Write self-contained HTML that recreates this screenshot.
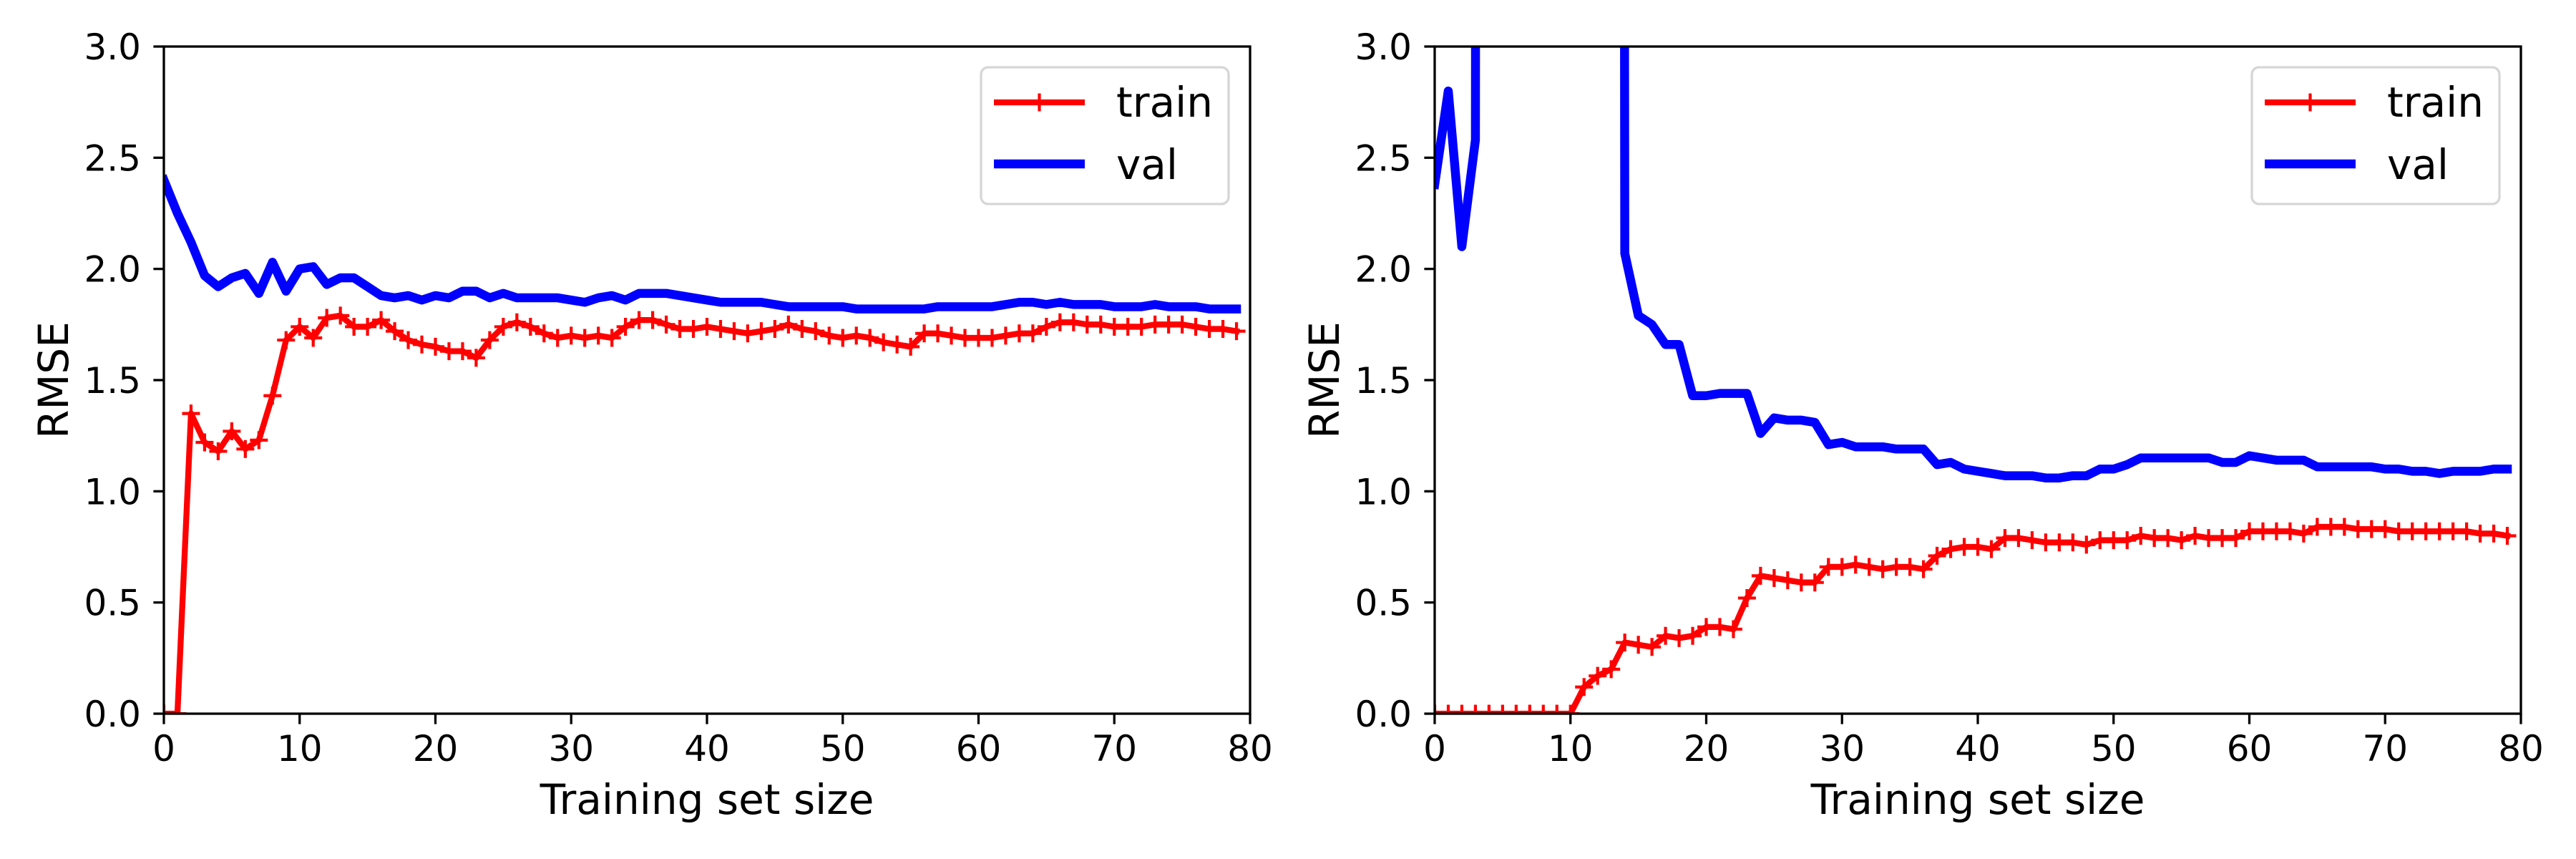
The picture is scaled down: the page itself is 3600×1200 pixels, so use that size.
<!DOCTYPE html>
<html><head><meta charset="utf-8"><style>
html,body{margin:0;padding:0;background:#fff;}
svg{display:block;}
text{font-family:"DejaVu Sans","Liberation Sans",sans-serif;fill:#000;}
</style></head><body>
<svg id="fig" width="3600" height="1200" viewBox="0 0 3600 1200" xmlns="http://www.w3.org/2000/svg"></svg>
<script>
const xTicks = [0,10,20,30,40,50,60,70,80];
const yTicks = [0.0,0.5,1.0,1.5,2.0,2.5,3.0];
const yTickLabels = ["0.0","0.5","1.0","1.5","2.0","2.5","3.0"];
const leftTrain = [0,0,1.35,1.22,1.18,1.27,1.19,1.23,1.43,1.68,1.74,1.69,1.78,1.79,1.74,1.74,1.77,1.72,1.68,1.66,1.65,1.63,1.63,1.60,1.68,1.74,1.76,1.74,1.71,1.69,1.70,1.69,1.70,1.69,1.74,1.77,1.77,1.75,1.73,1.73,1.74,1.73,1.72,1.71,1.72,1.73,1.75,1.73,1.72,1.70,1.69,1.70,1.69,1.67,1.66,1.65,1.71,1.71,1.70,1.69,1.69,1.69,1.70,1.71,1.71,1.74,1.76,1.76,1.75,1.75,1.74,1.74,1.74,1.75,1.75,1.75,1.74,1.73,1.73,1.72];
const leftVal = [2.40,2.25,2.12,1.97,1.92,1.96,1.98,1.89,2.03,1.90,2.00,2.01,1.93,1.96,1.96,1.92,1.88,1.87,1.88,1.86,1.88,1.87,1.90,1.90,1.87,1.89,1.87,1.87,1.87,1.87,1.86,1.85,1.87,1.88,1.86,1.89,1.89,1.89,1.88,1.87,1.86,1.85,1.85,1.85,1.85,1.84,1.83,1.83,1.83,1.83,1.83,1.82,1.82,1.82,1.82,1.82,1.82,1.83,1.83,1.83,1.83,1.83,1.84,1.85,1.85,1.84,1.85,1.84,1.84,1.84,1.83,1.83,1.83,1.84,1.83,1.83,1.83,1.82,1.82,1.82];
const rightTrain = [0,0,0,0,0,0,0,0,0,0,0,0.12,0.17,0.20,0.32,0.31,0.30,0.35,0.34,0.35,0.39,0.39,0.38,0.52,0.62,0.61,0.60,0.59,0.59,0.66,0.66,0.67,0.66,0.65,0.66,0.66,0.65,0.71,0.74,0.75,0.75,0.74,0.79,0.79,0.78,0.77,0.77,0.77,0.76,0.78,0.78,0.78,0.80,0.79,0.79,0.78,0.80,0.79,0.79,0.79,0.82,0.82,0.82,0.82,0.81,0.84,0.84,0.84,0.83,0.83,0.83,0.82,0.82,0.82,0.82,0.82,0.82,0.81,0.81,0.80];
const rightVal = [2.38,2.80,2.10,2.58,60,80,70,90,75,65,85,70,60,55,2.07,1.79,1.75,1.66,1.66,1.43,1.43,1.44,1.44,1.44,1.26,1.33,1.32,1.32,1.31,1.21,1.22,1.20,1.20,1.20,1.19,1.19,1.19,1.12,1.13,1.10,1.09,1.08,1.07,1.07,1.07,1.06,1.06,1.07,1.07,1.10,1.10,1.12,1.15,1.15,1.15,1.15,1.15,1.15,1.13,1.13,1.16,1.15,1.14,1.14,1.14,1.11,1.11,1.11,1.11,1.11,1.10,1.10,1.09,1.09,1.08,1.09,1.09,1.09,1.10,1.10];

const NS = "http://www.w3.org/2000/svg";
const svg = document.getElementById('fig');
function mk(tag, attrs, parent){
  const e = document.createElementNS(NS, tag);
  for (const k in attrs) e.setAttribute(k, attrs[k]);
  (parent||svg).appendChild(e);
  return e;
}
const AX_Y0 = 65, AX_Y1 = 997, AX_W = 1518;
function drawAxes(id, left, train, val){
  const xs = v => left + v/80*AX_W;
  const ys = v => AX_Y1 - v/3*(AX_Y1-AX_Y0);
  const g = mk('g', {});
  
  
  const cp = mk('clipPath', {id: id+'-clip'}, g);
  mk('rect', {x:left, y:AX_Y0, width:AX_W, height:AX_Y1-AX_Y0}, cp);
  const plot = mk('g', {'clip-path':'url(#'+id+'-clip)'}, g);
  // val line
  const vp = mk('polyline', {points: val.map((v,i)=>xs(i)+','+ys(v)).join(' '), fill:'none', stroke:'#0000ff', 'stroke-width':12.5, 'stroke-linejoin':'round', 'stroke-linecap':'square'}, plot);
  
  
  const tp = mk('polyline', {points: train.map((v,i)=>xs(i)+','+ys(v)).join(' '), fill:'none', stroke:'#ff0000', 'stroke-width':8.3, 'stroke-linejoin':'round', 'stroke-linecap':'square'}, plot);
  
  
  train.forEach((v,i)=>{
    const x = xs(i), y = ys(v);
    const m = mk('path', {d:`M${x-12.5},${y}H${x+12.5}M${x},${y-12.5}V${y+12.5}`, stroke:'#ff0000', 'stroke-width':4.2, fill:'none'}, plot);
    
    
  });
  // spines
  const sp = mk('rect', {x:left, y:AX_Y0, width:AX_W, height:AX_Y1-AX_Y0, fill:'none', stroke:'#000', 'stroke-width':3.3}, g);
  
  
  // ticks
  xTicks.forEach(t=>{
    const x = xs(t);
    mk('line', {x1:x, x2:x, y1:AX_Y1, y2:AX_Y1+14.6, stroke:'#000', 'stroke-width':3.3}, g);
    const tx = mk('text', {x:x, y:1063, 'font-size':50, 'text-anchor':'middle'}, g);
    tx.textContent = String(t);
    
    
  });
  yTicks.forEach((t,i)=>{
    const y = ys(t);
    mk('line', {x1:left-14.6, x2:left, y1:y, y2:y, stroke:'#000', 'stroke-width':3.3}, g);
    const tx = mk('text', {x:left-32, y:y+18, 'font-size':50, 'text-anchor':'end'}, g);
    tx.textContent = yTickLabels[i];
    
    
  });
  const xl = mk('text', {x:left+AX_W/2, y:1137, 'font-size':58, 'text-anchor':'middle'}, g);
  xl.textContent = 'Training set size';
  
  
  const yc = (AX_Y0+AX_Y1)/2, yx = left-155;
  const yl = mk('text', {x:yx+21, y:yc, 'font-size':58, 'text-anchor':'middle', transform:`rotate(-90 ${yx+21} ${yc})`}, g);
  yl.textContent = 'RMSE';
  
  
  // legend
  const lx = left + AX_W - 376;
  const lg = mk('g', {}, g);
  
  
  mk('rect', {x:lx, y:94, width:346, height:191, rx:10, ry:10, fill:'#fff', 'fill-opacity':0.8, stroke:'#d6d6d6', 'stroke-width':3.3}, lg);
  const e1 = mk('g', {}, lg);
  
  
  mk('line', {x1:lx+18, x2:lx+145, y1:143, y2:143, stroke:'#ff0000', 'stroke-width':8.3}, e1);
  mk('path', {d:`M${lx+81.5},130.5V155.5M${lx+69},143H${lx+94}`, stroke:'#ff0000', 'stroke-width':4.2}, e1);
  const t1 = mk('text', {x:lx+189, y:163, 'font-size':58}, e1);
  t1.textContent = 'train';
  const e2 = mk('g', {}, lg);
  
  
  mk('line', {x1:lx+18, x2:lx+145, y1:229, y2:229, stroke:'#0000ff', 'stroke-width':12.5}, e2);
  const t2 = mk('text', {x:lx+189, y:250, 'font-size':58}, e2);
  t2.textContent = 'val';
}
drawAxes('left-plot', 229, leftTrain, leftVal);
drawAxes('right-plot', 2005, rightTrain, rightVal);
</script>
</body></html>
